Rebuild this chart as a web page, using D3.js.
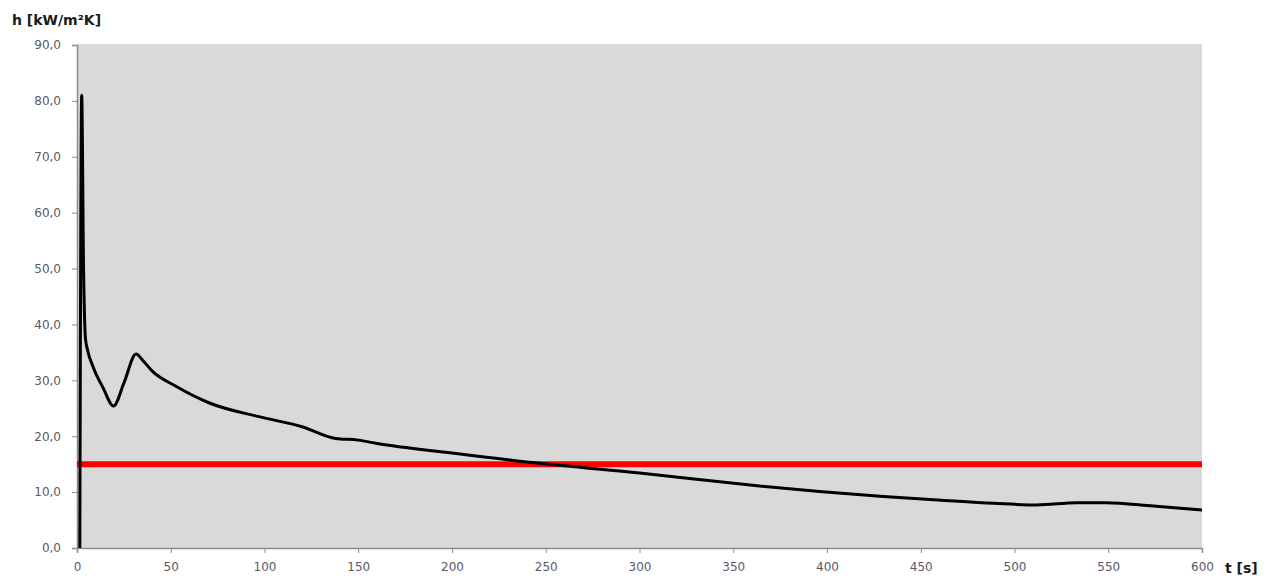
<!DOCTYPE html>
<html>
<head>
<meta charset="utf-8">
<script src="https://cdn.jsdelivr.net/npm/d3@7"></script>
<style>
  html, body { margin: 0; padding: 0; background: #ffffff; }
  svg { display: block; }
</style>
</head>
<body>
<svg id="chart" width="1276" height="581"></svg>
<script>
const timeS = [1.5, 2.5, 3.5, 4.5, 5.5, 8.6, 14, 19.5, 25, 31.5, 35, 40, 53, 71, 97, 120, 138, 150, 160, 200, 248, 300, 364, 396, 430, 459, 489, 512, 533, 549, 574, 600];
const hValues = [0, 81, 50, 37.5, 35.6, 32.4, 28.6, 25.4, 29.5, 34.7, 33.6, 31.7, 28.9, 25.9, 23.5, 21.7, 19.6, 19.3, 18.7, 17.0, 15.1, 13.4, 11.1, 10.1, 9.2, 8.6, 8.0, 7.7, 8.1, 8.1, 7.5, 6.8];
const limitValue = 15;
const yTicks = [0, 10, 20, 30, 40, 50, 60, 70, 80, 90];
const xTicks = [0, 50, 100, 150, 200, 250, 300, 350, 400, 450, 500, 550, 600];
const yTitle = "h [kW/m²K]";
const xTitle = "t [s]";

(function () {
const svg = d3.select("#chart");
const pL = 77, pR = 1202, pT = 45, pB = 548;

const x = d3.scaleLinear().domain([0, 600]).range([pL, pR]);
const y = d3.scaleLinear().domain([0, 90]).range([pB, pT]);

svg.append("rect")
  .attr("x", pL).attr("y", pT - 1)
  .attr("width", pR - pL).attr("height", pB - pT + 1)
  .attr("fill", "#d9d9d9");

const fmt = d => d.toFixed(1).replace(".", ",");

const yAxis = svg.append("g")
  .attr("transform", `translate(${pL},0)`)
  .call(d3.axisLeft(y).tickValues(yTicks).tickFormat(fmt).tickSizeOuter(0).tickSize(5).tickPadding(11));
const xAxis = svg.append("g")
  .attr("transform", `translate(0,${pB})`)
  .call(d3.axisBottom(x).tickValues(xTicks).tickFormat(d3.format("d")).tickSizeOuter(0).tickSize(5).tickPadding(9));

[yAxis, xAxis].forEach(g => {
  g.select(".domain").attr("stroke", "#8c8c8c").attr("stroke-width", 1.5);
  g.selectAll(".tick line").attr("stroke", "#8c8c8c");
  g.selectAll(".tick text")
    .attr("fill", "#5a5a66")
    .style("font-family", "'DejaVu Sans', sans-serif")
    .style("font-size", "12px");
});

svg.append("line")
  .attr("x1", x(0)).attr("x2", x(600))
  .attr("y1", y(limitValue)).attr("y2", y(limitValue))
  .attr("stroke", "#ff0000").attr("stroke-width", 6);

const line = d3.line()
  .x((d, i) => x(timeS[i]))
  .y(d => y(d))
  .curve(d3.curveMonotoneX);

svg.append("path")
  .datum(hValues)
  .attr("d", line)
  .attr("fill", "none")
  .attr("stroke", "#000000")
  .attr("stroke-width", 3)
  .attr("stroke-linejoin", "round");

svg.append("text")
  .attr("x", 12).attr("y", 25)
  .attr("fill", "#1a1a1a")
  .style("font-family", "'DejaVu Sans', sans-serif")
  .style("font-size", "14px")
  .style("font-weight", "bold")
  .text(yTitle);

svg.append("text")
  .attr("x", 1225).attr("y", 573)
  .attr("fill", "#1a1a1a")
  .style("font-family", "'DejaVu Sans', sans-serif")
  .style("font-size", "14px")
  .style("font-weight", "bold")
  .text(xTitle);
})();
</script>
</body>
</html>
